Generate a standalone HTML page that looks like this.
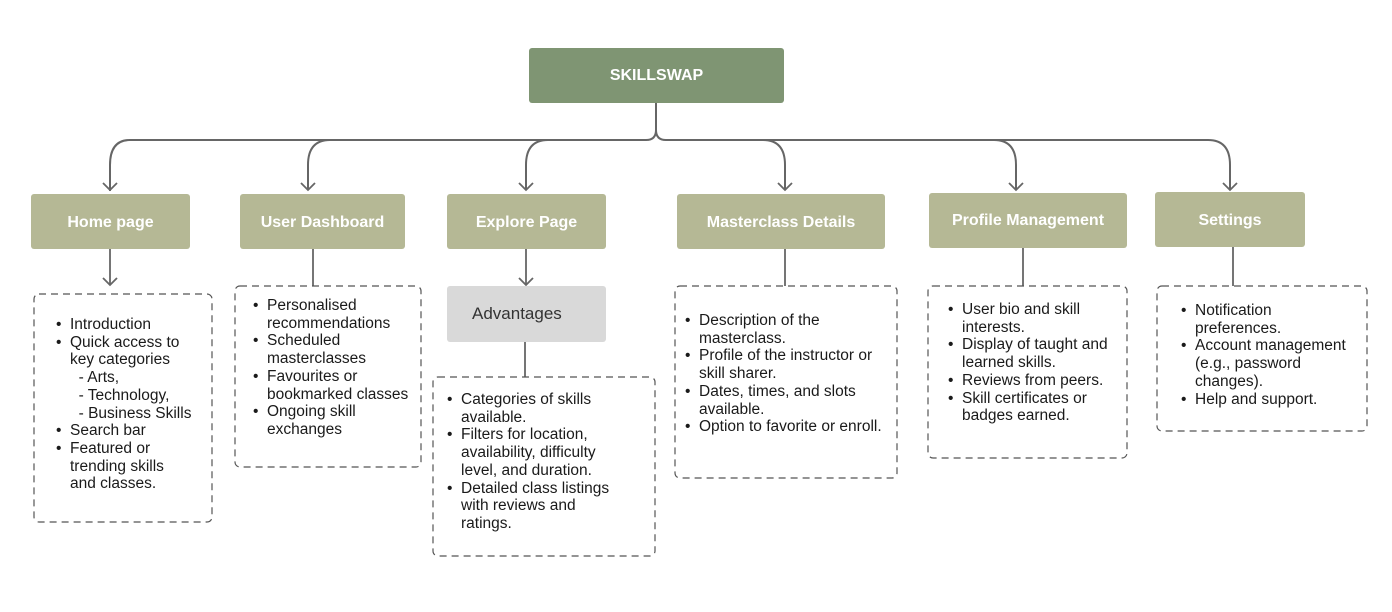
<!DOCTYPE html>
<html><head><meta charset="utf-8"><style>
body{margin:0;width:1392px;height:612px;background:#fff;position:relative;overflow:hidden;font-family:"Liberation Sans",sans-serif;}
.n{position:absolute;color:#fff;font-weight:bold;font-size:16px;display:flex;align-items:center;justify-content:center;border-radius:3px;}
.t{position:absolute;font-size:15.5px;line-height:17.7px;color:#1a1a1a;white-space:nowrap;}
.t div{position:relative;padding-left:14px}
.t div.b:before{content:"•";position:absolute;left:0;}
</style></head><body>
<svg width="1392" height="612" style="position:absolute;left:0;top:0" fill="none" stroke="#666" stroke-width="2">
<path d="M656 103 V130 Q656 140 646 140 H130 Q110 140 110 165 V191"/>
<path d="M656 130 Q656 140 666 140 H1208 Q1230 140 1230 165 V190"/>
<path d="M330 140 Q308 140 308 165 V190"/>
<path d="M548 140 Q526 140 526 165 V190"/>
<path d="M763 140 Q785 140 785 165 V190"/>
<path d="M994 140 Q1016 140 1016 165 V190"/>
<g stroke-width="1.8">
<path d="M103 183 L110 190 L117 183"/><path d="M301 183 L308 190 L315 183"/><path d="M519 183 L526 190 L533 183"/>
<path d="M778 183 L785 190 L792 183"/><path d="M1009 183 L1016 190 L1023 183"/><path d="M1223 183 L1230 190 L1237 183"/>
<path d="M110 249 V285"/><path d="M103 278 L110 285 L117 278"/>
<path d="M526 249 V285"/><path d="M519 278 L526 285 L533 278"/>
<path d="M313 249 V286"/><path d="M785 249 V286"/><path d="M1023 248 V286"/><path d="M1233 247 V286"/><path d="M525 342 V377"/>
</g>
<g stroke="#555" stroke-width="1.2" stroke-dasharray="7 5">
<rect x="34" y="294" width="178" height="228" rx="5"/>
<rect x="235" y="286" width="186" height="181" rx="5"/>
<rect x="433" y="377" width="222" height="179" rx="5"/>
<rect x="675" y="286" width="222" height="192" rx="5"/>
<rect x="928" y="286" width="199" height="172" rx="5"/>
<rect x="1157" y="286" width="210" height="145" rx="5"/>
</g>
</svg>
<div class="n" style="left:529px;top:48px;width:255px;height:55px;background:#7f9573">SKILLSWAP</div>
<div class="n" style="left:31px;top:194px;width:159px;height:55px;background:#b5b895;padding-top:3px;box-sizing:border-box">Home page</div>
<div class="n" style="left:240px;top:194px;width:165px;height:55px;background:#b5b895;padding-top:3px;box-sizing:border-box">User Dashboard</div>
<div class="n" style="left:447px;top:194px;width:159px;height:55px;background:#b5b895;padding-top:3px;box-sizing:border-box">Explore Page</div>
<div class="n" style="left:677px;top:194px;width:208px;height:55px;background:#b5b895;padding-top:3px;box-sizing:border-box">Masterclass Details</div>
<div class="n" style="left:929px;top:193px;width:198px;height:55px;background:#b5b895;padding-top:1px;box-sizing:border-box">Profile Management</div>
<div class="n" style="left:1155px;top:192px;width:150px;height:55px;background:#b5b895;padding-top:3px;box-sizing:border-box">Settings</div>
<div class="n" style="left:447px;top:286px;width:159px;height:56px;background:#d9d9d9;color:#333;font-weight:normal;font-size:17px;justify-content:flex-start;padding-left:25px;box-sizing:border-box">Advantages</div>
<div class="t" style="left:56px;top:316px"><div class="b">Introduction</div><div class="b">Quick access to<br>key categories</div><div>&nbsp;&nbsp;- Arts,<br>&nbsp;&nbsp;- Technology,<br>&nbsp;&nbsp;- Business Skills</div><div class="b">Search bar</div><div class="b">Featured or<br>trending skills<br>and classes.</div></div>
<div class="t" style="left:253px;top:297px"><div class="b">Personalised<br>recommendations</div><div class="b">Scheduled<br>masterclasses</div><div class="b">Favourites or<br>bookmarked classes</div><div class="b">Ongoing skill<br>exchanges</div></div>
<div class="t" style="left:447px;top:391px"><div class="b">Categories of skills<br>available.</div><div class="b">Filters for location,<br>availability, difficulty<br>level, and duration.</div><div class="b">Detailed class listings<br>with reviews and<br>ratings.</div></div>
<div class="t" style="left:685px;top:312px"><div class="b">Description of the<br>masterclass.</div><div class="b">Profile of the instructor or<br>skill sharer.</div><div class="b">Dates, times, and slots<br>available.</div><div class="b">Option to favorite or enroll.</div></div>
<div class="t" style="left:948px;top:301px"><div class="b">User bio and skill<br>interests.</div><div class="b">Display of taught and<br>learned skills.</div><div class="b">Reviews from peers.</div><div class="b">Skill certificates or<br>badges earned.</div></div>
<div class="t" style="left:1181px;top:302px"><div class="b">Notification<br>preferences.</div><div class="b">Account management<br>(e.g., password<br>changes).</div><div class="b">Help and support.</div></div>
</body></html>
